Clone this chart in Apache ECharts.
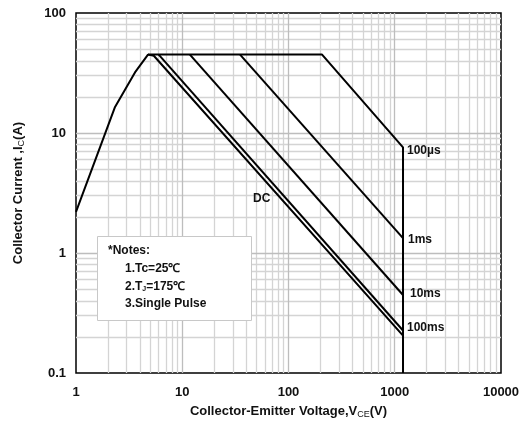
<!DOCTYPE html>
<html>
<head>
<meta charset="UTF-8">
<title>SOA</title>
<script src="https://cdn.jsdelivr.net/npm/echarts@6/dist/echarts.min.js"></script>
<style>
html,body{margin:0;padding:0;background:#fff;}
#main{width:524px;height:431px;}
</style>
</head>
<body>
<div id="main"></div>
<script>
// curve points (V, A)
var vDC    = [1, 2.33, 3.59, 4.76, 5.4, 1196];
var iDC    = [2.2, 16.5, 32, 45, 44, 0.205];
var v100ms = [6.0, 1196];
var i100ms = [45, 0.226];
var v10ms  = [11.8, 1196];
var i10ms  = [45, 0.447];
var v1ms   = [35, 1196];
var i1ms   = [45, 1.33];
var v100us = [4.76, 207, 1196, 1196];
var i100us = [45, 45, 7.6, 0.1];

var xTicks = [1, 10, 100, 1000, 10000];
var yTicks = [0.1, 1, 10, 100];

function pairs(xs, ys) {
	return xs.map(function (x, k) { return [x, ys[k]]; });
}

// grid lines at 2..9 of every decade
var minorX = [], minorY = [];
[1, 10, 100, 1000].forEach(function (d) {
	for (var m = 2; m <= 9; m++) minorX.push(m * d);
});
[0.1, 1, 10].forEach(function (d) {
	for (var m = 2; m <= 9; m++) minorY.push(+(m * d).toFixed(2));
});

var font = '"Liberation Sans", Arial, sans-serif';
var curve = { color: '#000', width: 2 };

var myChart = echarts.init(document.getElementById('main'));

var option = {
	animation: false,
	grid: {
		left: 76, right: 23, top: 13, bottom: 58,
		show: true, borderColor: '#000', borderWidth: 1.5, backgroundColor: '#fff'
	},
	xAxis: {
		type: 'log', logBase: 10, min: 1, max: 10000,
		axisLine: { show: false },
		axisTick: { show: false },
		splitLine: { show: false },
		axisLabel: {
			margin: 13, fontSize: 13, fontWeight: 'bold', color: '#111', fontFamily: font,
			formatter: function (v) { return xTicks.indexOf(v) >= 0 ? String(v) : ''; }
		},
		name: '{a|Collector-Emitter Voltage,V}{s|CE}{a|(V)}',
		nameLocation: 'middle',
		nameGap: 31,
		nameTextStyle: {
			rich: {
				a: { fontSize: 13, fontWeight: 'bold', color: '#111', fontFamily: font },
				s: { fontSize: 9, color: '#111', fontFamily: font, padding: [6, 0, 0, 0] }
			}
		}
	},
	yAxis: {
		type: 'log', logBase: 10, min: 0.1, max: 100,
		axisLine: { show: false },
		axisTick: { show: false },
		splitLine: { show: false },
		axisLabel: {
			margin: 10, fontSize: 13, fontWeight: 'bold', color: '#111', fontFamily: font,
			formatter: function (v) { return yTicks.indexOf(v) >= 0 ? String(v) : ''; }
		},
		name: '{a|Collector Current ,I}{s|C}{a|(A)}',
		nameLocation: 'middle',
		nameRotate: 90,
		nameGap: 50,
		nameTextStyle: {
			rich: {
				a: { fontSize: 13, fontWeight: 'bold', color: '#111', fontFamily: font },
				s: { fontSize: 9, color: '#111', fontFamily: font, padding: [6, 0, 0, 0] }
			}
		}
	},
	series: [
		{
			name: 'grid', type: 'line', data: [[1, 0.1]], showSymbol: false, silent: true, z: 1,
			lineStyle: { opacity: 0 },
			markLine: {
				silent: true, symbol: 'none', label: { show: false },
				lineStyle: { color: '#d4d4d4', width: 1.3, type: 'solid' },
				data: minorX.map(function (v) { return { xAxis: v }; })
					.concat(minorY.map(function (v) { return { yAxis: v }; }))
					.concat([10, 100, 1000].map(function (v) { return { xAxis: v, lineStyle: { color: '#bdbdbd' } }; }))
					.concat([1, 10].map(function (v) { return { yAxis: v, lineStyle: { color: '#bdbdbd' } }; }))
			}
		},
		{ name: 'DC', type: 'line', data: pairs(vDC, iDC), showSymbol: false, lineStyle: curve, z: 5 },
		{ name: '100ms', type: 'line', data: pairs(v100ms, i100ms), showSymbol: false, lineStyle: curve, z: 5 },
		{ name: '10ms', type: 'line', data: pairs(v10ms, i10ms), showSymbol: false, lineStyle: curve, z: 5 },
		{ name: '1ms', type: 'line', data: pairs(v1ms, i1ms), showSymbol: false, lineStyle: curve, z: 5 },
		{ name: '100µs', type: 'line', data: pairs(v100us, i100us), showSymbol: false, lineStyle: curve, z: 5 }
	],
	graphic: [
		{ type: 'text', left: 407, top: 145, z: 100, style: { text: '100µs', font: 'bold 12px ' + font, fill: '#111' } },
		{ type: 'text', left: 408, top: 234, z: 100, style: { text: '1ms', font: 'bold 12px ' + font, fill: '#111' } },
		{ type: 'text', left: 410, top: 288, z: 100, style: { text: '10ms', font: 'bold 12px ' + font, fill: '#111' } },
		{ type: 'text', left: 407, top: 322, z: 100, style: { text: '100ms', font: 'bold 12px ' + font, fill: '#111' } },
		{ type: 'text', left: 253, top: 193, z: 100, style: { text: 'DC', font: 'bold 12px ' + font, fill: '#111' } },
		{ type: 'rect', left: 97, top: 236, z: 100, shape: { width: 154, height: 84 }, style: { fill: '#fff', stroke: '#c8c8c8', lineWidth: 1 } },
		{ type: 'text', left: 108, top: 245, z: 101, style: { text: '*Notes:', font: 'bold 12px ' + font, fill: '#111' } },
		{ type: 'text', left: 125, top: 263, z: 101, style: { text: '1.Tc=25℃', font: 'bold 12px ' + font, fill: '#111' } },
		{ type: 'text', left: 125, top: 281, z: 101, style: {
			text: '{a|2.T}{s|J}{a|=175℃}',
			rich: { a: { font: 'bold 12px ' + font, fill: '#111' }, s: { font: 'bold 7px ' + font, fill: '#111', padding: [5, 0, 0, 0] } }
		} },
		{ type: 'text', left: 125, top: 298, z: 101, style: { text: '3.Single Pulse', font: 'bold 12px ' + font, fill: '#111' } }
	]
};

if (option && typeof option === 'object') {
	myChart.setOption(option, true);
}
</script>
</body>
</html>
